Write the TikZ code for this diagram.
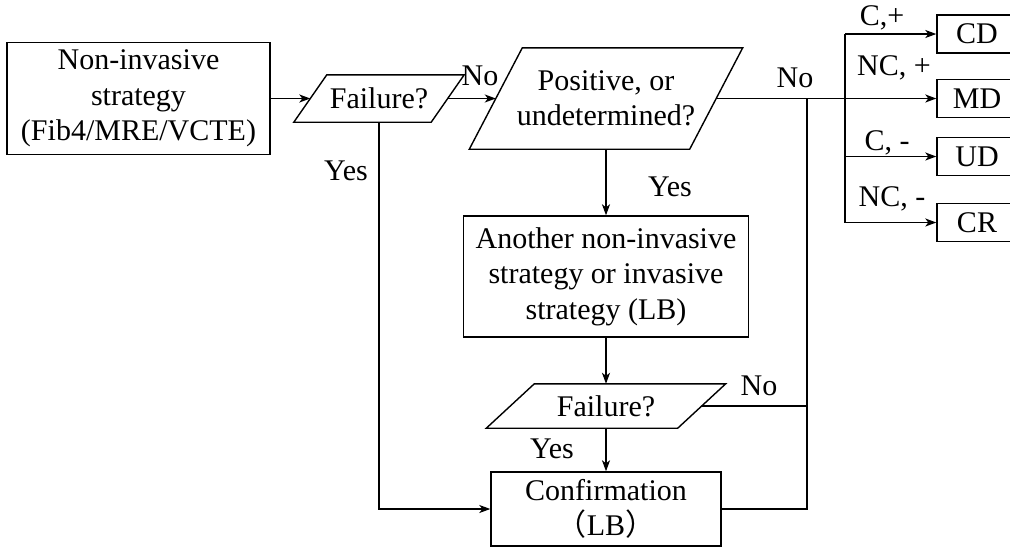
\documentclass[tikz,border=0pt]{standalone}
\usepackage{fontspec}
\setmainfont{Liberation Serif}
\newfontfamily\cjk{Noto Sans CJK SC}
\usetikzlibrary{positioning, arrows.meta, calc}

\tikzset{
  box/.style={draw, line width=1.4pt, align=center, inner sep=0pt},
  parabox/.style={align=center, inner sep=0pt},
  line/.style={line width=1.4pt},
  arr/.style={line width=1.4pt, -{Stealth[length=11pt, width=8pt, inset=3pt]}},
  lbl/.style={inner sep=0pt, anchor=base},
}
% frame of a slanted decision node
\newcommand{\paraedge}[2]{%
  \draw[line] ([xshift=#2*0.5]#1.north west) -- ([xshift=#2*0.5]#1.north east)
    -- ([xshift=-#2*0.5]#1.south east) -- ([xshift=-#2*0.5]#1.south west) -- cycle;}

\begin{document}
\begin{tikzpicture}[x=1pt, y=-1pt, font=\fontsize{30}{35.5}\selectfont]
  \useasboundingbox (0,0) rectangle (1010,547);
  \clip (0,0) rectangle (1010,547);

  % main chain
  \node[box, minimum width=263pt, minimum height=112pt] (nis) at (138.5,98.5) {Non-invasive\\strategy\\(Fib4/MRE/VCTE)};
  \node[parabox, minimum width=137pt, minimum height=47pt] (fail1) at (379,98.5) {Failure?};
  \node[parabox, minimum width=220pt, minimum height=101pt] (pos) at (606,98.5) {Positive, or\\undetermined?};
  \node[box, minimum width=285pt, minimum height=121pt] (other) at (606,276.5) {Another non-invasive\\strategy or invasive\\strategy (LB)};
  \node[parabox, minimum width=191pt, minimum height=44pt] (fail2) at (606,406) {Failure?};
  \node[box, minimum width=230pt, minimum height=74pt] (conf) at (606,509) {Confirmation\\{\cjk （}LB{\cjk ）}};
  \paraedge{fail1}{33}
  \paraedge{pos}{53}
  \paraedge{fail2}{48}

  % outcomes
  \foreach \name/\y in {CD/34, MD/98.5, UD/156.5, CR/222.5}
    \node[box, minimum width=80pt, minimum height=38pt] (\name) at (977,\y) {\name};

  \coordinate (jr) at (845,98.5);
  \coordinate (jl) at (807,98.5);

  % connectors
  \draw[arr] (nis.east) -- (fail1.west);
  \draw[arr] (fail1.east) -- (pos.west);
  \draw[arr] (pos.east) -- (MD.west);
  \draw[line] (jr |- CD.west) -- (jr |- CR.west);
  \foreach \name in {CD, UD, CR}
    \draw[arr] (jr |- \name.west) -- (\name.west);
  \draw[arr] (pos.south) -- (other.north);
  \draw[arr] (other.south) -- (fail2.north);
  \draw[arr] (fail2.south) -- (conf.north);
  \draw[line] (fail2.east) -- (jl |- fail2.east);
  \draw[line] (conf.east) -- (jl |- conf.east) -- (jl);
  \draw[arr] (fail1.south) |- (conf.west);

  % labels
  \node[lbl] (no1) at (480,85) {No};
  \node[lbl] (yes1) at (346,180) {Yes};
  \node[lbl] (no2) at (795,87) {No};
  \node[lbl] (yes2) at (670,196) {Yes};
  \node[lbl] (no3) at (759,395) {No};
  \node[lbl] (yes3) at (552,458) {Yes};
  \node[lbl] (cplus) at (882,25) {C,+};
  \node[lbl] (ncplus) at (894,75) {NC, +};
  \node[lbl] (cminus) at (887,150) {C, -};
  \node[lbl] (ncminus) at (892,206) {NC, -};
\end{tikzpicture}
\end{document}
